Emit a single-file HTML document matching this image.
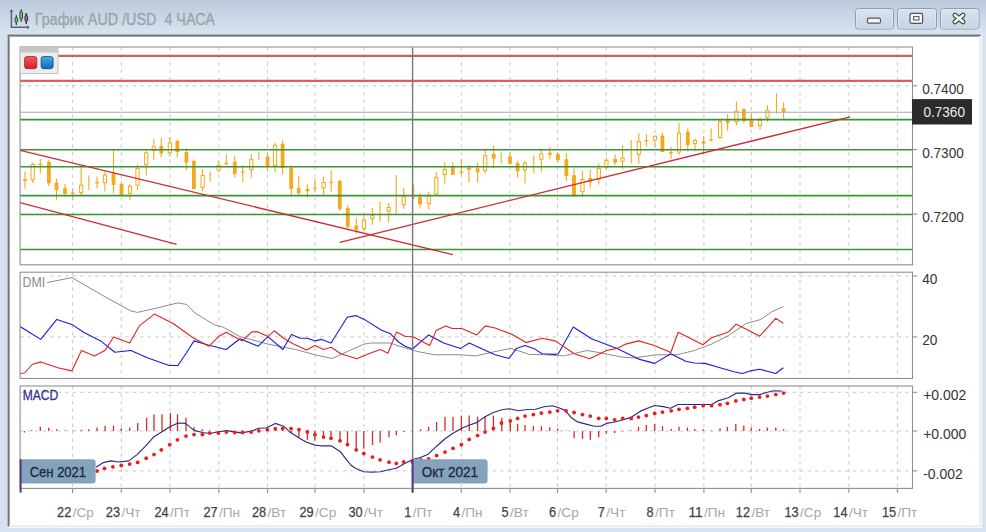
<!DOCTYPE html>
<html><head><meta charset="utf-8"><title>AUD/USD</title>
<style>html,body{margin:0;padding:0;width:986px;height:532px;overflow:hidden;background:#d5e1ef;font-family:"Liberation Sans", sans-serif}</style>
</head><body>
<svg width="986" height="532" viewBox="0 0 986 532" style="position:absolute;left:0;top:0">
<defs>
<linearGradient id="tb" x1="0" y1="0" x2="0" y2="1"><stop offset="0" stop-color="#bbc9db"/><stop offset="1" stop-color="#d8e3ef"/></linearGradient>
<linearGradient id="btn" x1="0" y1="0" x2="0" y2="1"><stop offset="0" stop-color="#d9e3ef"/><stop offset="1" stop-color="#c5d3e4"/></linearGradient>
<linearGradient id="rq" x1="0" y1="0" x2="0" y2="1"><stop offset="0" stop-color="#f45a5a"/><stop offset="1" stop-color="#d0202e"/></linearGradient>
<linearGradient id="bq" x1="0" y1="0" x2="0" y2="1"><stop offset="0" stop-color="#48aeea"/><stop offset="1" stop-color="#1466b4"/></linearGradient>
<clipPath id="c1"><rect x="20" y="48" width="892" height="216"/></clipPath>
<clipPath id="c2"><rect x="20" y="273" width="892" height="105"/></clipPath>
<clipPath id="c3"><rect x="20" y="387" width="892" height="101"/></clipPath>
</defs>
<rect x="0" y="0" width="986" height="532" fill="#d6e2f0"/>
<rect x="0" y="0" width="986" height="34" fill="url(#tb)"/>
<rect x="0" y="33" width="986" height="1" fill="#dce5f0"/>
<rect x="10" y="37" width="969" height="488" fill="#ffffff"/>
<rect x="7" y="34" width="974" height="1" fill="#a6b0bb"/>
<rect x="7" y="35" width="974" height="1" fill="#6f757a"/>
<rect x="8" y="36" width="972" height="1" fill="#a2a6a8"/>
<rect x="7" y="34" width="1" height="493" fill="#b2bcc8"/>
<rect x="8" y="35" width="1" height="492" fill="#717982"/>
<rect x="9" y="36" width="1" height="490" fill="#9ca1a6"/>
<rect x="979" y="36" width="2" height="491" fill="#eceeed"/>
<rect x="9" y="525" width="972" height="2" fill="#ececec"/>
<rect x="981" y="34" width="1" height="494" fill="#f2f7fc"/>
<rect x="7" y="527" width="975" height="1" fill="#f3f6fa"/>
<g>
<path d="M11.4 11 V27.3 H27.5" fill="none" stroke="#56667c" stroke-width="1.5"/>
<path d="M9.4 11.8 L11.4 9.2 L13.4 11.8 Z" fill="#56667c"/>
<path d="M27 25.2 L29.6 27.3 L27 29.4 Z" fill="#56667c"/>
<path d="M16.3 15.2 V24.9 M21.2 9.2 V21.7 M26.3 13.1 V23.7" stroke="#26402c" stroke-width="1.2"/>
<path d="M26.3 13.1 V23.7" stroke="#4a2a30" stroke-width="1.2"/>
<rect x="15" y="17.6" width="2.6" height="4.6" rx="1" fill="#78c07c" stroke="#24502c" stroke-width="1"/>
<rect x="19.9" y="11.6" width="2.6" height="7.4" rx="1" fill="#78c07c" stroke="#24502c" stroke-width="1"/>
<rect x="25" y="15.5" width="2.6" height="5.7" rx="1" fill="#a86a74" stroke="#4a2430" stroke-width="1"/>
</g>
<text x="34.8" y="25.1" font-family='"Liberation Sans", sans-serif' font-size="15.6" fill="#9ba2ab" stroke="#9ba2ab" stroke-width="0.3" textLength="180" lengthAdjust="spacingAndGlyphs">График AUD /USD&#160; 4 ЧАСА</text>
<rect x="855.5" y="8.5" width="38" height="20.5" rx="3" fill="url(#btn)" stroke="#8e9db3" stroke-width="1"/>
<rect x="856.5" y="9.5" width="36" height="18.5" rx="2" fill="none" stroke="#e8eef6" stroke-width="0.8" opacity="0.7"/>
<rect x="897.5" y="8.5" width="39" height="20.5" rx="3" fill="url(#btn)" stroke="#8e9db3" stroke-width="1"/>
<rect x="898.5" y="9.5" width="37" height="18.5" rx="2" fill="none" stroke="#e8eef6" stroke-width="0.8" opacity="0.7"/>
<rect x="940.5" y="8.5" width="38.5" height="20.5" rx="3" fill="url(#btn)" stroke="#8e9db3" stroke-width="1"/>
<rect x="941.5" y="9.5" width="36.5" height="18.5" rx="2" fill="none" stroke="#e8eef6" stroke-width="0.8" opacity="0.7"/>
<rect x="867.5" y="18.2" width="13" height="5" rx="1.5" fill="#f4f4f4" stroke="#555" stroke-width="1.2"/>
<rect x="910" y="13.4" width="12.6" height="10" rx="1.5" fill="#f4f4f4" stroke="#555" stroke-width="1.2"/>
<rect x="913.6" y="16.6" width="5.4" height="3.4" fill="#f4f4f4" stroke="#555" stroke-width="1"/>
<path d="M955 15.2 L963 21.8 M963 15.2 L955 21.8" stroke="#4a4a4a" stroke-width="5" stroke-linecap="round"/>
<path d="M955 15.2 L963 21.8 M963 15.2 L955 21.8" stroke="#f6f6f6" stroke-width="2.6" stroke-linecap="round"/>
<line x1="72.6" y1="47.0" x2="72.6" y2="264.8" stroke="#c9c9c9" stroke-width="1" stroke-dasharray="3.5 4"/>
<line x1="121.3" y1="47.0" x2="121.3" y2="264.8" stroke="#c9c9c9" stroke-width="1" stroke-dasharray="3.5 4"/>
<line x1="170" y1="47.0" x2="170" y2="264.8" stroke="#c9c9c9" stroke-width="1" stroke-dasharray="3.5 4"/>
<line x1="218.9" y1="47.0" x2="218.9" y2="264.8" stroke="#c9c9c9" stroke-width="1" stroke-dasharray="3.5 4"/>
<line x1="267.5" y1="47.0" x2="267.5" y2="264.8" stroke="#c9c9c9" stroke-width="1" stroke-dasharray="3.5 4"/>
<line x1="315" y1="47.0" x2="315" y2="264.8" stroke="#c9c9c9" stroke-width="1" stroke-dasharray="3.5 4"/>
<line x1="363.9" y1="47.0" x2="363.9" y2="264.8" stroke="#c9c9c9" stroke-width="1" stroke-dasharray="3.5 4"/>
<line x1="461.3" y1="47.0" x2="461.3" y2="264.8" stroke="#c9c9c9" stroke-width="1" stroke-dasharray="3.5 4"/>
<line x1="510" y1="47.0" x2="510" y2="264.8" stroke="#c9c9c9" stroke-width="1" stroke-dasharray="3.5 4"/>
<line x1="557.5" y1="47.0" x2="557.5" y2="264.8" stroke="#c9c9c9" stroke-width="1" stroke-dasharray="3.5 4"/>
<line x1="606.2" y1="47.0" x2="606.2" y2="264.8" stroke="#c9c9c9" stroke-width="1" stroke-dasharray="3.5 4"/>
<line x1="655" y1="47.0" x2="655" y2="264.8" stroke="#c9c9c9" stroke-width="1" stroke-dasharray="3.5 4"/>
<line x1="703.9" y1="47.0" x2="703.9" y2="264.8" stroke="#c9c9c9" stroke-width="1" stroke-dasharray="3.5 4"/>
<line x1="751.3" y1="47.0" x2="751.3" y2="264.8" stroke="#c9c9c9" stroke-width="1" stroke-dasharray="3.5 4"/>
<line x1="800" y1="47.0" x2="800" y2="264.8" stroke="#c9c9c9" stroke-width="1" stroke-dasharray="3.5 4"/>
<line x1="848.8" y1="47.0" x2="848.8" y2="264.8" stroke="#c9c9c9" stroke-width="1" stroke-dasharray="3.5 4"/>
<line x1="897.4" y1="47.0" x2="897.4" y2="264.8" stroke="#c9c9c9" stroke-width="1" stroke-dasharray="3.5 4"/>
<line x1="72.6" y1="272.2" x2="72.6" y2="378.5" stroke="#c9c9c9" stroke-width="1" stroke-dasharray="3.5 4"/>
<line x1="121.3" y1="272.2" x2="121.3" y2="378.5" stroke="#c9c9c9" stroke-width="1" stroke-dasharray="3.5 4"/>
<line x1="170" y1="272.2" x2="170" y2="378.5" stroke="#c9c9c9" stroke-width="1" stroke-dasharray="3.5 4"/>
<line x1="218.9" y1="272.2" x2="218.9" y2="378.5" stroke="#c9c9c9" stroke-width="1" stroke-dasharray="3.5 4"/>
<line x1="267.5" y1="272.2" x2="267.5" y2="378.5" stroke="#c9c9c9" stroke-width="1" stroke-dasharray="3.5 4"/>
<line x1="315" y1="272.2" x2="315" y2="378.5" stroke="#c9c9c9" stroke-width="1" stroke-dasharray="3.5 4"/>
<line x1="363.9" y1="272.2" x2="363.9" y2="378.5" stroke="#c9c9c9" stroke-width="1" stroke-dasharray="3.5 4"/>
<line x1="461.3" y1="272.2" x2="461.3" y2="378.5" stroke="#c9c9c9" stroke-width="1" stroke-dasharray="3.5 4"/>
<line x1="510" y1="272.2" x2="510" y2="378.5" stroke="#c9c9c9" stroke-width="1" stroke-dasharray="3.5 4"/>
<line x1="557.5" y1="272.2" x2="557.5" y2="378.5" stroke="#c9c9c9" stroke-width="1" stroke-dasharray="3.5 4"/>
<line x1="606.2" y1="272.2" x2="606.2" y2="378.5" stroke="#c9c9c9" stroke-width="1" stroke-dasharray="3.5 4"/>
<line x1="655" y1="272.2" x2="655" y2="378.5" stroke="#c9c9c9" stroke-width="1" stroke-dasharray="3.5 4"/>
<line x1="703.9" y1="272.2" x2="703.9" y2="378.5" stroke="#c9c9c9" stroke-width="1" stroke-dasharray="3.5 4"/>
<line x1="751.3" y1="272.2" x2="751.3" y2="378.5" stroke="#c9c9c9" stroke-width="1" stroke-dasharray="3.5 4"/>
<line x1="800" y1="272.2" x2="800" y2="378.5" stroke="#c9c9c9" stroke-width="1" stroke-dasharray="3.5 4"/>
<line x1="848.8" y1="272.2" x2="848.8" y2="378.5" stroke="#c9c9c9" stroke-width="1" stroke-dasharray="3.5 4"/>
<line x1="897.4" y1="272.2" x2="897.4" y2="378.5" stroke="#c9c9c9" stroke-width="1" stroke-dasharray="3.5 4"/>
<line x1="72.6" y1="386.0" x2="72.6" y2="488.4" stroke="#c9c9c9" stroke-width="1" stroke-dasharray="3.5 4"/>
<line x1="121.3" y1="386.0" x2="121.3" y2="488.4" stroke="#c9c9c9" stroke-width="1" stroke-dasharray="3.5 4"/>
<line x1="170" y1="386.0" x2="170" y2="488.4" stroke="#c9c9c9" stroke-width="1" stroke-dasharray="3.5 4"/>
<line x1="218.9" y1="386.0" x2="218.9" y2="488.4" stroke="#c9c9c9" stroke-width="1" stroke-dasharray="3.5 4"/>
<line x1="267.5" y1="386.0" x2="267.5" y2="488.4" stroke="#c9c9c9" stroke-width="1" stroke-dasharray="3.5 4"/>
<line x1="315" y1="386.0" x2="315" y2="488.4" stroke="#c9c9c9" stroke-width="1" stroke-dasharray="3.5 4"/>
<line x1="363.9" y1="386.0" x2="363.9" y2="488.4" stroke="#c9c9c9" stroke-width="1" stroke-dasharray="3.5 4"/>
<line x1="461.3" y1="386.0" x2="461.3" y2="488.4" stroke="#c9c9c9" stroke-width="1" stroke-dasharray="3.5 4"/>
<line x1="510" y1="386.0" x2="510" y2="488.4" stroke="#c9c9c9" stroke-width="1" stroke-dasharray="3.5 4"/>
<line x1="557.5" y1="386.0" x2="557.5" y2="488.4" stroke="#c9c9c9" stroke-width="1" stroke-dasharray="3.5 4"/>
<line x1="606.2" y1="386.0" x2="606.2" y2="488.4" stroke="#c9c9c9" stroke-width="1" stroke-dasharray="3.5 4"/>
<line x1="655" y1="386.0" x2="655" y2="488.4" stroke="#c9c9c9" stroke-width="1" stroke-dasharray="3.5 4"/>
<line x1="703.9" y1="386.0" x2="703.9" y2="488.4" stroke="#c9c9c9" stroke-width="1" stroke-dasharray="3.5 4"/>
<line x1="751.3" y1="386.0" x2="751.3" y2="488.4" stroke="#c9c9c9" stroke-width="1" stroke-dasharray="3.5 4"/>
<line x1="800" y1="386.0" x2="800" y2="488.4" stroke="#c9c9c9" stroke-width="1" stroke-dasharray="3.5 4"/>
<line x1="848.8" y1="386.0" x2="848.8" y2="488.4" stroke="#c9c9c9" stroke-width="1" stroke-dasharray="3.5 4"/>
<line x1="897.4" y1="386.0" x2="897.4" y2="488.4" stroke="#c9c9c9" stroke-width="1" stroke-dasharray="3.5 4"/>
<line x1="20.1" y1="85.8" x2="912.5" y2="85.8" stroke="#c9c9c9" stroke-width="1" stroke-dasharray="3.5 4"/>
<line x1="20.1" y1="149.6" x2="912.5" y2="149.6" stroke="#c9c9c9" stroke-width="1" stroke-dasharray="3.5 4"/>
<line x1="20.1" y1="214.1" x2="912.5" y2="214.1" stroke="#c9c9c9" stroke-width="1" stroke-dasharray="3.5 4"/>
<line x1="20.1" y1="276.1" x2="912.5" y2="276.1" stroke="#c9c9c9" stroke-width="1" stroke-dasharray="3.5 4"/>
<line x1="20.1" y1="336.9" x2="912.5" y2="336.9" stroke="#c9c9c9" stroke-width="1" stroke-dasharray="3.5 4"/>
<line x1="20.1" y1="392.3" x2="912.5" y2="392.3" stroke="#c9c9c9" stroke-width="1" stroke-dasharray="3.5 4"/>
<line x1="20.1" y1="431.0" x2="912.5" y2="431.0" stroke="#c9c9c9" stroke-width="1" stroke-dasharray="3.5 4"/>
<line x1="20.1" y1="470.9" x2="912.5" y2="470.9" stroke="#c9c9c9" stroke-width="1" stroke-dasharray="3.5 4"/>
<g clip-path="url(#c1)">
<line x1="25" y1="171.5" x2="25" y2="188.8" stroke="#f4a81a" stroke-width="1.1"/>
<rect x="23.1" y="179" width="3.8" height="2" fill="#f4a81a"/>
<line x1="32.7" y1="162.6" x2="32.7" y2="182.7" stroke="#f4a81a" stroke-width="1.1"/>
<rect x="31.1" y="164.4" width="3.2" height="15.3" fill="#fff" stroke="#f4a81a" stroke-width="1"/>
<line x1="40.3" y1="158.9" x2="40.3" y2="173.6" stroke="#f4a81a" stroke-width="1.1"/>
<line x1="38.3" y1="164.4" x2="42.3" y2="164.4" stroke="#f4a81a" stroke-width="1.2"/>
<line x1="48.9" y1="160.1" x2="48.9" y2="186.4" stroke="#f4a81a" stroke-width="1.1"/>
<rect x="47" y="162" width="3.8" height="21.3" fill="#f4a81a"/>
<line x1="56.5" y1="179" x2="56.5" y2="199.8" stroke="#f4a81a" stroke-width="1.1"/>
<rect x="54.6" y="182.7" width="3.8" height="7.3" fill="#f4a81a"/>
<line x1="65" y1="184" x2="65" y2="196.8" stroke="#f4a81a" stroke-width="1.1"/>
<rect x="63.1" y="188.2" width="3.8" height="5.5" fill="#f4a81a"/>
<line x1="72.7" y1="188.2" x2="72.7" y2="199.8" stroke="#f4a81a" stroke-width="1.1"/>
<line x1="70.7" y1="193" x2="74.7" y2="193" stroke="#f4a81a" stroke-width="1.2"/>
<line x1="81.2" y1="166.3" x2="81.2" y2="195.6" stroke="#f4a81a" stroke-width="1.1"/>
<rect x="79.6" y="185.2" width="3.2" height="7.3" fill="#fff" stroke="#f4a81a" stroke-width="1"/>
<line x1="88.8" y1="175.4" x2="88.8" y2="190" stroke="#f4a81a" stroke-width="1.1"/>
<line x1="97.1" y1="176.6" x2="97.1" y2="188.6" stroke="#f4a81a" stroke-width="1.1"/>
<line x1="95.1" y1="182.7" x2="99.1" y2="182.7" stroke="#f4a81a" stroke-width="1.2"/>
<line x1="104.9" y1="171.4" x2="104.9" y2="191.6" stroke="#f4a81a" stroke-width="1.1"/>
<rect x="103.3" y="175" width="3.2" height="7.6" fill="#fff" stroke="#f4a81a" stroke-width="1"/>
<line x1="113.5" y1="149.5" x2="113.5" y2="193.2" stroke="#f4a81a" stroke-width="1.1"/>
<rect x="111.6" y="172.9" width="3.8" height="12" fill="#f4a81a"/>
<line x1="121.5" y1="181.9" x2="121.5" y2="196.2" stroke="#f4a81a" stroke-width="1.1"/>
<rect x="119.6" y="184" width="3.8" height="11.4" fill="#f4a81a"/>
<line x1="130" y1="184" x2="130" y2="200" stroke="#f4a81a" stroke-width="1.1"/>
<rect x="128.4" y="186.4" width="3.2" height="6.8" fill="#fff" stroke="#f4a81a" stroke-width="1"/>
<line x1="137.5" y1="164.4" x2="137.5" y2="190.4" stroke="#f4a81a" stroke-width="1.1"/>
<rect x="135.9" y="168.6" width="3.2" height="16.6" fill="#fff" stroke="#f4a81a" stroke-width="1"/>
<line x1="146.2" y1="150.6" x2="146.2" y2="175.4" stroke="#f4a81a" stroke-width="1.1"/>
<rect x="144.6" y="152.8" width="3.2" height="12" fill="#fff" stroke="#f4a81a" stroke-width="1"/>
<line x1="153.8" y1="139.3" x2="153.8" y2="160.3" stroke="#f4a81a" stroke-width="1.1"/>
<rect x="152.2" y="146.8" width="3.2" height="3.8" fill="#fff" stroke="#f4a81a" stroke-width="1"/>
<line x1="161.3" y1="137.8" x2="161.3" y2="157.3" stroke="#f4a81a" stroke-width="1.1"/>
<rect x="159.4" y="146" width="3.8" height="7.6" fill="#f4a81a"/>
<line x1="169.8" y1="137" x2="169.8" y2="156.6" stroke="#f4a81a" stroke-width="1.1"/>
<rect x="168.2" y="143" width="3.2" height="9.8" fill="#fff" stroke="#f4a81a" stroke-width="1"/>
<line x1="177.4" y1="140" x2="177.4" y2="157.3" stroke="#f4a81a" stroke-width="1.1"/>
<rect x="175.5" y="140.8" width="3.8" height="11.2" fill="#f4a81a"/>
<line x1="186.4" y1="148.3" x2="186.4" y2="170.1" stroke="#f4a81a" stroke-width="1.1"/>
<rect x="184.5" y="152" width="3.8" height="10.6" fill="#f4a81a"/>
<line x1="193.9" y1="159.6" x2="193.9" y2="189" stroke="#f4a81a" stroke-width="1.1"/>
<rect x="192" y="161" width="3.8" height="28" fill="#f4a81a"/>
<line x1="202.6" y1="169.4" x2="202.6" y2="191.2" stroke="#f4a81a" stroke-width="1.1"/>
<rect x="201" y="175.4" width="3.2" height="12" fill="#fff" stroke="#f4a81a" stroke-width="1"/>
<line x1="210.2" y1="171.6" x2="210.2" y2="182.1" stroke="#f4a81a" stroke-width="1.1"/>
<line x1="218.7" y1="161" x2="218.7" y2="172.4" stroke="#f4a81a" stroke-width="1.1"/>
<rect x="217.1" y="165.6" width="3.2" height="4.5" fill="#fff" stroke="#f4a81a" stroke-width="1"/>
<line x1="226.3" y1="154.3" x2="226.3" y2="165.6" stroke="#f4a81a" stroke-width="1.1"/>
<line x1="224.3" y1="163.3" x2="228.3" y2="163.3" stroke="#f4a81a" stroke-width="1.2"/>
<line x1="234.8" y1="155.8" x2="234.8" y2="177.6" stroke="#f4a81a" stroke-width="1.1"/>
<rect x="232.9" y="161.8" width="3.8" height="12.1" fill="#f4a81a"/>
<line x1="242.7" y1="165.6" x2="242.7" y2="182.1" stroke="#f4a81a" stroke-width="1.1"/>
<line x1="240.7" y1="172" x2="244.7" y2="172" stroke="#f4a81a" stroke-width="1.2"/>
<line x1="251.3" y1="154.3" x2="251.3" y2="177.6" stroke="#f4a81a" stroke-width="1.1"/>
<rect x="249.7" y="159.6" width="3.2" height="9.8" fill="#fff" stroke="#f4a81a" stroke-width="1"/>
<line x1="258.8" y1="152" x2="258.8" y2="160.3" stroke="#f4a81a" stroke-width="1.1"/>
<line x1="267.6" y1="153.6" x2="267.6" y2="170.9" stroke="#f4a81a" stroke-width="1.1"/>
<rect x="265.7" y="156.6" width="3.8" height="9.8" fill="#f4a81a"/>
<line x1="275" y1="143" x2="275" y2="172.4" stroke="#f4a81a" stroke-width="1.1"/>
<rect x="273.4" y="145.3" width="3.2" height="20.3" fill="#fff" stroke="#f4a81a" stroke-width="1"/>
<line x1="282.6" y1="140" x2="282.6" y2="174.6" stroke="#f4a81a" stroke-width="1.1"/>
<rect x="280.7" y="143.8" width="3.8" height="24.1" fill="#f4a81a"/>
<line x1="291.2" y1="165.6" x2="291.2" y2="195.7" stroke="#f4a81a" stroke-width="1.1"/>
<rect x="289.3" y="167.9" width="3.8" height="21" fill="#f4a81a"/>
<line x1="298.7" y1="176.1" x2="298.7" y2="194.9" stroke="#f4a81a" stroke-width="1.1"/>
<rect x="296.8" y="188.2" width="3.8" height="5.2" fill="#f4a81a"/>
<line x1="307.4" y1="184.4" x2="307.4" y2="197.2" stroke="#f4a81a" stroke-width="1.1"/>
<rect x="305.5" y="188.9" width="3.8" height="2.3" fill="#f4a81a"/>
<line x1="314.9" y1="179.1" x2="314.9" y2="191.2" stroke="#f4a81a" stroke-width="1.1"/>
<line x1="312.9" y1="188.2" x2="316.9" y2="188.2" stroke="#f4a81a" stroke-width="1.2"/>
<line x1="323.6" y1="176.5" x2="323.6" y2="196.1" stroke="#f4a81a" stroke-width="1.1"/>
<rect x="322" y="182.6" width="3.2" height="5.2" fill="#fff" stroke="#f4a81a" stroke-width="1"/>
<line x1="331.2" y1="170.5" x2="331.2" y2="191.6" stroke="#f4a81a" stroke-width="1.1"/>
<line x1="329.2" y1="182.3" x2="333.2" y2="182.3" stroke="#f4a81a" stroke-width="1.2"/>
<line x1="339.8" y1="179.5" x2="339.8" y2="211.1" stroke="#f4a81a" stroke-width="1.1"/>
<rect x="337.9" y="181" width="3.8" height="27.9" fill="#f4a81a"/>
<line x1="347.8" y1="205.1" x2="347.8" y2="228.4" stroke="#f4a81a" stroke-width="1.1"/>
<rect x="345.9" y="208.1" width="3.8" height="18.8" fill="#f4a81a"/>
<line x1="356.3" y1="217.9" x2="356.3" y2="233.7" stroke="#f4a81a" stroke-width="1.1"/>
<rect x="354.4" y="225.4" width="3.8" height="4.5" fill="#f4a81a"/>
<line x1="363.9" y1="214.9" x2="363.9" y2="231.4" stroke="#f4a81a" stroke-width="1.1"/>
<rect x="362.3" y="220.2" width="3.2" height="8.2" fill="#fff" stroke="#f4a81a" stroke-width="1"/>
<line x1="372.4" y1="208.1" x2="372.4" y2="224.7" stroke="#f4a81a" stroke-width="1.1"/>
<rect x="370.8" y="215.6" width="3.2" height="3" fill="#fff" stroke="#f4a81a" stroke-width="1"/>
<line x1="380" y1="201.4" x2="380" y2="221.7" stroke="#f4a81a" stroke-width="1.1"/>
<line x1="388.7" y1="202.9" x2="388.7" y2="222.4" stroke="#f4a81a" stroke-width="1.1"/>
<rect x="387.1" y="207.4" width="3.2" height="3.7" fill="#fff" stroke="#f4a81a" stroke-width="1"/>
<line x1="396.2" y1="175" x2="396.2" y2="213.4" stroke="#f4a81a" stroke-width="1.1"/>
<line x1="403.7" y1="187.8" x2="403.7" y2="208.9" stroke="#f4a81a" stroke-width="1.1"/>
<rect x="402.1" y="196.8" width="3.2" height="7.6" fill="#fff" stroke="#f4a81a" stroke-width="1"/>
<line x1="413.6" y1="184.8" x2="413.6" y2="199" stroke="#f4a81a" stroke-width="1.1"/>
<line x1="420" y1="193.2" x2="420" y2="208.2" stroke="#f4a81a" stroke-width="1.1"/>
<rect x="418.1" y="196.9" width="3.8" height="7.5" fill="#f4a81a"/>
<line x1="428.8" y1="191.7" x2="428.8" y2="209.7" stroke="#f4a81a" stroke-width="1.1"/>
<rect x="427.2" y="196.2" width="3.2" height="7.5" fill="#fff" stroke="#f4a81a" stroke-width="1"/>
<line x1="436.3" y1="172.1" x2="436.3" y2="195.4" stroke="#f4a81a" stroke-width="1.1"/>
<rect x="434.7" y="177.4" width="3.2" height="16.5" fill="#fff" stroke="#f4a81a" stroke-width="1"/>
<line x1="444.8" y1="162.3" x2="444.8" y2="183.4" stroke="#f4a81a" stroke-width="1.1"/>
<rect x="443.2" y="169.4" width="3.2" height="5" fill="#fff" stroke="#f4a81a" stroke-width="1"/>
<line x1="452.8" y1="162.3" x2="452.8" y2="175.1" stroke="#f4a81a" stroke-width="1.1"/>
<rect x="450.9" y="166.8" width="3.8" height="8" fill="#f4a81a"/>
<line x1="461.4" y1="159.3" x2="461.4" y2="175.1" stroke="#f4a81a" stroke-width="1.1"/>
<line x1="459.4" y1="172.1" x2="463.4" y2="172.1" stroke="#f4a81a" stroke-width="1.2"/>
<line x1="468.9" y1="165.3" x2="468.9" y2="182.6" stroke="#f4a81a" stroke-width="1.1"/>
<rect x="467" y="167.6" width="3.8" height="2.2" fill="#f4a81a"/>
<line x1="477.6" y1="163.1" x2="477.6" y2="182.6" stroke="#f4a81a" stroke-width="1.1"/>
<rect x="475.7" y="168.3" width="3.8" height="3.8" fill="#f4a81a"/>
<line x1="485.2" y1="149.5" x2="485.2" y2="173.6" stroke="#f4a81a" stroke-width="1.1"/>
<rect x="483.6" y="155.6" width="3.2" height="15" fill="#fff" stroke="#f4a81a" stroke-width="1"/>
<line x1="493.7" y1="145.8" x2="493.7" y2="168.3" stroke="#f4a81a" stroke-width="1.1"/>
<rect x="491.8" y="154" width="3.8" height="4.6" fill="#f4a81a"/>
<line x1="501.2" y1="152.6" x2="501.2" y2="163.8" stroke="#f4a81a" stroke-width="1.1"/>
<line x1="510" y1="152.6" x2="510" y2="164.6" stroke="#f4a81a" stroke-width="1.1"/>
<rect x="508.1" y="156.3" width="3.8" height="7.5" fill="#f4a81a"/>
<line x1="517.6" y1="160.8" x2="517.6" y2="177.4" stroke="#f4a81a" stroke-width="1.1"/>
<rect x="515.7" y="163.1" width="3.8" height="8.3" fill="#f4a81a"/>
<line x1="525" y1="160.8" x2="525" y2="183.4" stroke="#f4a81a" stroke-width="1.1"/>
<rect x="523.4" y="163.1" width="3.2" height="6.7" fill="#fff" stroke="#f4a81a" stroke-width="1"/>
<line x1="533.8" y1="155.6" x2="533.8" y2="172.9" stroke="#f4a81a" stroke-width="1.1"/>
<line x1="541.3" y1="148.8" x2="541.3" y2="171.4" stroke="#f4a81a" stroke-width="1.1"/>
<rect x="539.7" y="154" width="3.2" height="5.3" fill="#fff" stroke="#f4a81a" stroke-width="1"/>
<line x1="549.9" y1="146.5" x2="549.9" y2="159.3" stroke="#f4a81a" stroke-width="1.1"/>
<rect x="548" y="152.6" width="3.8" height="2.2" fill="#f4a81a"/>
<line x1="557.9" y1="152.6" x2="557.9" y2="162.3" stroke="#f4a81a" stroke-width="1.1"/>
<rect x="556" y="154" width="3.8" height="6" fill="#f4a81a"/>
<line x1="566.4" y1="153.3" x2="566.4" y2="181.1" stroke="#f4a81a" stroke-width="1.1"/>
<rect x="564.5" y="159.3" width="3.8" height="16.6" fill="#f4a81a"/>
<line x1="574" y1="168.3" x2="574" y2="196.9" stroke="#f4a81a" stroke-width="1.1"/>
<rect x="572.1" y="175.1" width="3.8" height="20.3" fill="#f4a81a"/>
<line x1="582.5" y1="170.6" x2="582.5" y2="196.9" stroke="#f4a81a" stroke-width="1.1"/>
<rect x="580.9" y="179.6" width="3.2" height="12.1" fill="#fff" stroke="#f4a81a" stroke-width="1"/>
<line x1="590.2" y1="169.4" x2="590.2" y2="188.6" stroke="#f4a81a" stroke-width="1.1"/>
<rect x="588.3" y="178.1" width="3.8" height="3.8" fill="#f4a81a"/>
<line x1="598.8" y1="163.4" x2="598.8" y2="184.4" stroke="#f4a81a" stroke-width="1.1"/>
<rect x="597.2" y="168.6" width="3.2" height="10.6" fill="#fff" stroke="#f4a81a" stroke-width="1"/>
<line x1="606.4" y1="157.4" x2="606.4" y2="169.4" stroke="#f4a81a" stroke-width="1.1"/>
<rect x="604.8" y="160.4" width="3.2" height="6.7" fill="#fff" stroke="#f4a81a" stroke-width="1"/>
<line x1="615.1" y1="154.4" x2="615.1" y2="164.9" stroke="#f4a81a" stroke-width="1.1"/>
<rect x="613.2" y="158.9" width="3.8" height="3.7" fill="#f4a81a"/>
<line x1="622.6" y1="145.3" x2="622.6" y2="169.4" stroke="#f4a81a" stroke-width="1.1"/>
<rect x="621" y="158.1" width="3.2" height="3" fill="#fff" stroke="#f4a81a" stroke-width="1"/>
<line x1="631.2" y1="140.1" x2="631.2" y2="163.4" stroke="#f4a81a" stroke-width="1.1"/>
<line x1="638.8" y1="133.3" x2="638.8" y2="164.1" stroke="#f4a81a" stroke-width="1.1"/>
<rect x="637.2" y="141.6" width="3.2" height="12.8" fill="#fff" stroke="#f4a81a" stroke-width="1"/>
<line x1="646.4" y1="134.1" x2="646.4" y2="146.1" stroke="#f4a81a" stroke-width="1.1"/>
<line x1="644.4" y1="140.8" x2="648.4" y2="140.8" stroke="#f4a81a" stroke-width="1.2"/>
<line x1="654.9" y1="135.6" x2="654.9" y2="146.8" stroke="#f4a81a" stroke-width="1.1"/>
<rect x="653.3" y="136.3" width="3.2" height="3.8" fill="#fff" stroke="#f4a81a" stroke-width="1"/>
<line x1="662.4" y1="132.6" x2="662.4" y2="152.1" stroke="#f4a81a" stroke-width="1.1"/>
<rect x="660.5" y="135.6" width="3.8" height="16.5" fill="#f4a81a"/>
<line x1="671" y1="146.8" x2="671" y2="158.9" stroke="#f4a81a" stroke-width="1.1"/>
<rect x="669.1" y="152.1" width="3.8" height="1.5" fill="#f4a81a"/>
<line x1="679" y1="122.8" x2="679" y2="154.9" stroke="#f4a81a" stroke-width="1.1"/>
<rect x="677.4" y="133.2" width="3.2" height="18.8" fill="#fff" stroke="#f4a81a" stroke-width="1"/>
<line x1="687.8" y1="128.6" x2="687.8" y2="151.2" stroke="#f4a81a" stroke-width="1.1"/>
<rect x="685.9" y="131.6" width="3.8" height="13.6" fill="#f4a81a"/>
<line x1="695" y1="138.4" x2="695" y2="151.2" stroke="#f4a81a" stroke-width="1.1"/>
<rect x="693.4" y="140.6" width="3.2" height="3" fill="#fff" stroke="#f4a81a" stroke-width="1"/>
<line x1="703.6" y1="136.1" x2="703.6" y2="154.2" stroke="#f4a81a" stroke-width="1.1"/>
<rect x="701.7" y="141.4" width="3.8" height="2.2" fill="#f4a81a"/>
<line x1="711.1" y1="128.6" x2="711.1" y2="141.4" stroke="#f4a81a" stroke-width="1.1"/>
<line x1="709.1" y1="139.9" x2="713.1" y2="139.9" stroke="#f4a81a" stroke-width="1.2"/>
<line x1="720.1" y1="118.8" x2="720.1" y2="139.1" stroke="#f4a81a" stroke-width="1.1"/>
<rect x="718.5" y="121.8" width="3.2" height="15.8" fill="#fff" stroke="#f4a81a" stroke-width="1"/>
<line x1="727.6" y1="114.3" x2="727.6" y2="130.9" stroke="#f4a81a" stroke-width="1.1"/>
<rect x="725.7" y="120.3" width="3.8" height="3" fill="#f4a81a"/>
<line x1="736.4" y1="101.5" x2="736.4" y2="125.6" stroke="#f4a81a" stroke-width="1.1"/>
<rect x="734.8" y="111.3" width="3.2" height="10.5" fill="#fff" stroke="#f4a81a" stroke-width="1"/>
<line x1="743.9" y1="108.3" x2="743.9" y2="123.3" stroke="#f4a81a" stroke-width="1.1"/>
<rect x="742" y="109.1" width="3.8" height="12" fill="#f4a81a"/>
<line x1="751.4" y1="113.6" x2="751.4" y2="127.1" stroke="#f4a81a" stroke-width="1.1"/>
<rect x="749.5" y="120.3" width="3.8" height="6.8" fill="#f4a81a"/>
<line x1="760" y1="117.3" x2="760" y2="130.1" stroke="#f4a81a" stroke-width="1.1"/>
<rect x="758.4" y="120.3" width="3.2" height="5.3" fill="#fff" stroke="#f4a81a" stroke-width="1"/>
<line x1="767.5" y1="105.3" x2="767.5" y2="121.8" stroke="#f4a81a" stroke-width="1.1"/>
<rect x="765.9" y="110.6" width="3.2" height="6.7" fill="#fff" stroke="#f4a81a" stroke-width="1"/>
<line x1="776.5" y1="93.3" x2="776.5" y2="113.6" stroke="#f4a81a" stroke-width="1.1"/>
<line x1="783.6" y1="102.3" x2="783.6" y2="118.8" stroke="#f4a81a" stroke-width="1.1"/>
<rect x="781.7" y="108.3" width="3.8" height="3.8" fill="#f4a81a"/>
<line x1="20.1" y1="55.9" x2="912.5" y2="55.9" stroke="#c2646a" stroke-width="2.1"/>
<line x1="20.1" y1="80.9" x2="912.5" y2="80.9" stroke="#e05c5c" stroke-width="2.1"/>
<line x1="20.1" y1="112.3" x2="912.5" y2="112.3" stroke="#a8a8a8" stroke-width="1.1"/>
<line x1="20.1" y1="119.6" x2="912.5" y2="119.6" stroke="#3a9438" stroke-width="1.55"/>
<line x1="20.1" y1="149.7" x2="912.5" y2="149.7" stroke="#3a9438" stroke-width="1.55"/>
<line x1="20.1" y1="166.8" x2="912.5" y2="166.8" stroke="#3a9438" stroke-width="1.55"/>
<line x1="20.1" y1="195.6" x2="912.5" y2="195.6" stroke="#3a9438" stroke-width="1.55"/>
<line x1="20.1" y1="214.4" x2="912.5" y2="214.4" stroke="#3a9438" stroke-width="1.55"/>
<line x1="20.1" y1="249.5" x2="912.5" y2="249.5" stroke="#3a9438" stroke-width="1.55"/>
<line x1="20" y1="150.4" x2="452.8" y2="254.6" stroke="#cc2a30" stroke-width="1.25"/>
<line x1="20" y1="202.7" x2="176.6" y2="244.3" stroke="#cc2a30" stroke-width="1.25"/>
<line x1="339.7" y1="242.3" x2="850.2" y2="116.8" stroke="#cc2a30" stroke-width="1.25"/>
</g>
<g clip-path="url(#c2)">
<polyline points="47.2,282.6 71.8,277.6 107.2,298 130.8,310.9 137.2,312.4 154.3,308.7 177.9,302.9 186.5,304.4 195,313 214.4,324.8 222.9,327 240,336.6 267.9,344.1 295.7,349.5 315,354.8 332.2,358.5 347.2,351.6 364.3,344.1 370.8,343 390,343 403,347.3 417.9,351.6 435,354.8 460.7,354.8 475.7,355.9 495,351.6 511.1,348.4 529.3,354.4 546.5,354.8 563.6,355.9 587.2,350.5 600,352.7 621.4,357 634.3,358 655.7,354.8 677.2,354.8 694.3,350.5 711.5,344.1 728.6,335.5 745.8,323.7 760.8,319.4 771.5,311.9 783.3,306.6" fill="none" stroke="#8c8c8c" stroke-width="1.0" stroke-linejoin="round"/>
<polyline points="19.7,326.3 40.7,339.4 56.8,319.4 71.8,324.4 83.6,332.3 100.7,340.9 114.7,352.2 130.8,350.5 147.9,358 169.3,365.5 177.9,365.5 186.5,352.7 194,340.9 209,345.2 226.1,349.5 240,338.7 258.2,346.2 267.9,336.6 282.9,349.5 291.5,334.5 300,338.3 307.5,338.3 315,340.9 321.5,339.4 331.1,343 347.2,317.3 355.8,315.6 364.3,319.4 381.5,330.2 390,333.4 398.6,342 405,346.2 412.5,349 428.6,334.9 443.6,343 460.7,348.4 469.3,343 477.9,346.9 495,354.8 509,358.5 516.5,348.4 525,345.6 533.6,348.4 542.2,353.7 555.1,354.4 558.3,353.7 573.3,327 591.5,338.7 600,342 617.1,348.4 638.6,359.1 654.7,363.4 670.7,353.7 685.7,361.2 694.3,363 705,363.4 720,367.7 735,372 742.5,373.5 750,370.9 759.7,369.2 775.8,373.5 783.3,367.7" fill="none" stroke="#1c1cdc" stroke-width="1.1" stroke-linejoin="round"/>
<polyline points="19.7,373.5 24.6,373 32.1,364.5 40.7,361.9 57.9,367.7 71.8,370.9 81.5,350.5 94.3,355.9 105,350.5 113.6,337 129.7,343 139.3,325.9 154.3,314.1 173.6,323.7 192.9,337.7 209,346.2 218.6,336.6 226.1,332.3 242.2,340.9 251.8,331.9 258.2,331.9 267.9,336.6 274.3,330.8 282.9,337.7 291.5,343 306.5,349.9 315,345.6 323.6,349.5 331.1,347.3 340.8,353.7 356.8,358.7 368.6,353.7 380.4,349.5 387.9,353.3 396.5,331.9 405,336.2 413.6,337 429.7,345.6 436.1,330.6 445.7,325.9 452.2,328.5 461.8,328.5 476.8,334.9 485.4,325.9 495,328 512.2,334.5 526.1,342.6 542.2,338.3 555.1,340.9 574.3,353.7 589.4,358.7 600,353.7 606.4,350.5 617.1,348.4 625.7,344.1 638.6,340.9 653.6,345.2 668.6,351.6 670.7,352.7 678.2,332.3 702.9,344.7 711.5,337.7 728.6,331.9 736.1,324.2 745.8,329.1 759.7,336.2 775.8,318.4 783.3,323.3" fill="none" stroke="#e02424" stroke-width="1.1" stroke-linejoin="round"/>
</g>
<rect x="21" y="274" width="26" height="14" fill="#fff"/>
<text x="22.6" y="286.6" font-family='"Liberation Sans", sans-serif' font-size="14" fill="#8a8a8a" textLength="22.6" lengthAdjust="spacingAndGlyphs">DMI</text>
<g clip-path="url(#c3)">
<line x1="24.5" y1="431.0" x2="24.5" y2="432.5" stroke="#d42a2a" stroke-width="1.3"/>
<line x1="31.8" y1="431.0" x2="31.8" y2="430" stroke="#d42a2a" stroke-width="1.3"/>
<line x1="40.3" y1="431.0" x2="40.3" y2="426.8" stroke="#d42a2a" stroke-width="1.3"/>
<line x1="48.7" y1="431.0" x2="48.7" y2="427.8" stroke="#d42a2a" stroke-width="1.3"/>
<line x1="56.7" y1="431.0" x2="56.7" y2="429.3" stroke="#d42a2a" stroke-width="1.3"/>
<line x1="64.8" y1="431.0" x2="64.8" y2="430.5" stroke="#d42a2a" stroke-width="1.3"/>
<line x1="72.9" y1="431.0" x2="72.9" y2="430.5" stroke="#d42a2a" stroke-width="1.3"/>
<line x1="81.3" y1="431.0" x2="81.3" y2="429.8" stroke="#d42a2a" stroke-width="1.3"/>
<line x1="88.7" y1="431.0" x2="88.7" y2="429.3" stroke="#d42a2a" stroke-width="1.3"/>
<line x1="97.1" y1="431.0" x2="97.1" y2="427.6" stroke="#d42a2a" stroke-width="1.3"/>
<line x1="105.1" y1="431.0" x2="105.1" y2="425.7" stroke="#d42a2a" stroke-width="1.3"/>
<line x1="113.5" y1="431.0" x2="113.5" y2="425.7" stroke="#d42a2a" stroke-width="1.3"/>
<line x1="121.3" y1="431.0" x2="121.3" y2="428.3" stroke="#d42a2a" stroke-width="1.3"/>
<line x1="129.7" y1="431.0" x2="129.7" y2="427.6" stroke="#d42a2a" stroke-width="1.3"/>
<line x1="137.7" y1="431.0" x2="137.7" y2="423" stroke="#d42a2a" stroke-width="1.3"/>
<line x1="146.6" y1="431.0" x2="146.6" y2="417.7" stroke="#d42a2a" stroke-width="1.3"/>
<line x1="154" y1="431.0" x2="154" y2="414.6" stroke="#d42a2a" stroke-width="1.3"/>
<line x1="162" y1="431.0" x2="162" y2="414.2" stroke="#d42a2a" stroke-width="1.3"/>
<line x1="170.4" y1="431.0" x2="170.4" y2="413.1" stroke="#d42a2a" stroke-width="1.3"/>
<line x1="177.5" y1="431.0" x2="177.5" y2="414.2" stroke="#d42a2a" stroke-width="1.3"/>
<line x1="186" y1="431.0" x2="186" y2="417.7" stroke="#d42a2a" stroke-width="1.3"/>
<line x1="194" y1="431.0" x2="194" y2="427.2" stroke="#d42a2a" stroke-width="1.3"/>
<line x1="202.4" y1="431.0" x2="202.4" y2="429.3" stroke="#d42a2a" stroke-width="1.3"/>
<line x1="209.7" y1="431.0" x2="209.7" y2="430.4" stroke="#d42a2a" stroke-width="1.3"/>
<line x1="218.4" y1="431.0" x2="218.4" y2="432" stroke="#d42a2a" stroke-width="1.3"/>
<line x1="226.4" y1="431.0" x2="226.4" y2="430" stroke="#d42a2a" stroke-width="1.3"/>
<line x1="234.8" y1="431.0" x2="234.8" y2="432" stroke="#d42a2a" stroke-width="1.3"/>
<line x1="242.6" y1="431.0" x2="242.6" y2="430.5" stroke="#d42a2a" stroke-width="1.3"/>
<line x1="251.1" y1="431.0" x2="251.1" y2="430.5" stroke="#d42a2a" stroke-width="1.3"/>
<line x1="258.8" y1="431.0" x2="258.8" y2="430" stroke="#d42a2a" stroke-width="1.3"/>
<line x1="267.3" y1="431.0" x2="267.3" y2="429.5" stroke="#d42a2a" stroke-width="1.3"/>
<line x1="275.3" y1="431.0" x2="275.3" y2="428.5" stroke="#d42a2a" stroke-width="1.3"/>
<line x1="282.6" y1="431.0" x2="282.6" y2="428.8" stroke="#d42a2a" stroke-width="1.3"/>
<line x1="291.1" y1="431.0" x2="291.1" y2="433.3" stroke="#d42a2a" stroke-width="1.3"/>
<line x1="298.9" y1="431.0" x2="298.9" y2="437.6" stroke="#d42a2a" stroke-width="1.3"/>
<line x1="307.4" y1="431.0" x2="307.4" y2="439.9" stroke="#d42a2a" stroke-width="1.3"/>
<line x1="314.9" y1="431.0" x2="314.9" y2="440.4" stroke="#d42a2a" stroke-width="1.3"/>
<line x1="323.5" y1="431.0" x2="323.5" y2="437" stroke="#d42a2a" stroke-width="1.3"/>
<line x1="331" y1="431.0" x2="331" y2="438.5" stroke="#d42a2a" stroke-width="1.3"/>
<line x1="340" y1="431.0" x2="340" y2="440.8" stroke="#d42a2a" stroke-width="1.3"/>
<line x1="347.5" y1="431.0" x2="347.5" y2="444.6" stroke="#d42a2a" stroke-width="1.3"/>
<line x1="356.2" y1="431.0" x2="356.2" y2="449.8" stroke="#d42a2a" stroke-width="1.3"/>
<line x1="363.8" y1="431.0" x2="363.8" y2="448.4" stroke="#d42a2a" stroke-width="1.3"/>
<line x1="372.5" y1="431.0" x2="372.5" y2="445" stroke="#d42a2a" stroke-width="1.3"/>
<line x1="380.1" y1="431.0" x2="380.1" y2="442.4" stroke="#d42a2a" stroke-width="1.3"/>
<line x1="389" y1="431.0" x2="389" y2="437.3" stroke="#d42a2a" stroke-width="1.3"/>
<line x1="396.3" y1="431.0" x2="396.3" y2="435.2" stroke="#d42a2a" stroke-width="1.3"/>
<line x1="403.7" y1="431.0" x2="403.7" y2="432" stroke="#d42a2a" stroke-width="1.3"/>
<line x1="412.4" y1="431.0" x2="412.4" y2="431" stroke="#d42a2a" stroke-width="1.3"/>
<line x1="420.7" y1="431.0" x2="420.7" y2="429.3" stroke="#d42a2a" stroke-width="1.3"/>
<line x1="428.6" y1="431.0" x2="428.6" y2="426.8" stroke="#d42a2a" stroke-width="1.3"/>
<line x1="436.6" y1="431.0" x2="436.6" y2="422" stroke="#d42a2a" stroke-width="1.3"/>
<line x1="445" y1="431.0" x2="445" y2="416.7" stroke="#d42a2a" stroke-width="1.3"/>
<line x1="453" y1="431.0" x2="453" y2="416.7" stroke="#d42a2a" stroke-width="1.3"/>
<line x1="461.4" y1="431.0" x2="461.4" y2="415.6" stroke="#d42a2a" stroke-width="1.3"/>
<line x1="469.2" y1="431.0" x2="469.2" y2="415.6" stroke="#d42a2a" stroke-width="1.3"/>
<line x1="477.6" y1="431.0" x2="477.6" y2="416.7" stroke="#d42a2a" stroke-width="1.3"/>
<line x1="485" y1="431.0" x2="485" y2="416.7" stroke="#d42a2a" stroke-width="1.3"/>
<line x1="493.4" y1="431.0" x2="493.4" y2="415.6" stroke="#d42a2a" stroke-width="1.3"/>
<line x1="501.8" y1="431.0" x2="501.8" y2="417.7" stroke="#d42a2a" stroke-width="1.3"/>
<line x1="510.3" y1="431.0" x2="510.3" y2="419.8" stroke="#d42a2a" stroke-width="1.3"/>
<line x1="517.6" y1="431.0" x2="517.6" y2="424" stroke="#d42a2a" stroke-width="1.3"/>
<line x1="525" y1="431.0" x2="525" y2="425.1" stroke="#d42a2a" stroke-width="1.3"/>
<line x1="533.4" y1="431.0" x2="533.4" y2="426.2" stroke="#d42a2a" stroke-width="1.3"/>
<line x1="541.4" y1="431.0" x2="541.4" y2="426.2" stroke="#d42a2a" stroke-width="1.3"/>
<line x1="549.8" y1="431.0" x2="549.8" y2="427.2" stroke="#d42a2a" stroke-width="1.3"/>
<line x1="557.6" y1="431.0" x2="557.6" y2="428.3" stroke="#d42a2a" stroke-width="1.3"/>
<line x1="566.1" y1="431.0" x2="566.1" y2="430.4" stroke="#d42a2a" stroke-width="1.3"/>
<line x1="574.1" y1="431.0" x2="574.1" y2="438.2" stroke="#d42a2a" stroke-width="1.3"/>
<line x1="582.5" y1="431.0" x2="582.5" y2="438.8" stroke="#d42a2a" stroke-width="1.3"/>
<line x1="590.3" y1="431.0" x2="590.3" y2="439.8" stroke="#d42a2a" stroke-width="1.3"/>
<line x1="598.7" y1="431.0" x2="598.7" y2="437.3" stroke="#d42a2a" stroke-width="1.3"/>
<line x1="606.3" y1="431.0" x2="606.3" y2="433.5" stroke="#d42a2a" stroke-width="1.3"/>
<line x1="614.7" y1="431.0" x2="614.7" y2="433" stroke="#d42a2a" stroke-width="1.3"/>
<line x1="622.7" y1="431.0" x2="622.7" y2="431.5" stroke="#d42a2a" stroke-width="1.3"/>
<line x1="631.2" y1="431.0" x2="631.2" y2="430.4" stroke="#d42a2a" stroke-width="1.3"/>
<line x1="638.5" y1="431.0" x2="638.5" y2="426.8" stroke="#d42a2a" stroke-width="1.3"/>
<line x1="646.3" y1="431.0" x2="646.3" y2="425.1" stroke="#d42a2a" stroke-width="1.3"/>
<line x1="654.7" y1="431.0" x2="654.7" y2="424" stroke="#d42a2a" stroke-width="1.3"/>
<line x1="662.5" y1="431.0" x2="662.5" y2="426.2" stroke="#d42a2a" stroke-width="1.3"/>
<line x1="671.2" y1="431.0" x2="671.2" y2="428.9" stroke="#d42a2a" stroke-width="1.3"/>
<line x1="679" y1="431.0" x2="679" y2="426.8" stroke="#d42a2a" stroke-width="1.3"/>
<line x1="687.4" y1="431.0" x2="687.4" y2="427.6" stroke="#d42a2a" stroke-width="1.3"/>
<line x1="694.7" y1="431.0" x2="694.7" y2="428.9" stroke="#d42a2a" stroke-width="1.3"/>
<line x1="703.2" y1="431.0" x2="703.2" y2="429.3" stroke="#d42a2a" stroke-width="1.3"/>
<line x1="711.6" y1="431.0" x2="711.6" y2="430.4" stroke="#d42a2a" stroke-width="1.3"/>
<line x1="720" y1="431.0" x2="720" y2="428.3" stroke="#d42a2a" stroke-width="1.3"/>
<line x1="727.4" y1="431.0" x2="727.4" y2="426.8" stroke="#d42a2a" stroke-width="1.3"/>
<line x1="735.8" y1="431.0" x2="735.8" y2="424" stroke="#d42a2a" stroke-width="1.3"/>
<line x1="743.8" y1="431.0" x2="743.8" y2="425.5" stroke="#d42a2a" stroke-width="1.3"/>
<line x1="751.2" y1="431.0" x2="751.2" y2="427.6" stroke="#d42a2a" stroke-width="1.3"/>
<line x1="759.6" y1="431.0" x2="759.6" y2="428.9" stroke="#d42a2a" stroke-width="1.3"/>
<line x1="767.4" y1="431.0" x2="767.4" y2="427.6" stroke="#d42a2a" stroke-width="1.3"/>
<line x1="775.8" y1="431.0" x2="775.8" y2="427.6" stroke="#d42a2a" stroke-width="1.3"/>
<line x1="783.6" y1="431.0" x2="783.6" y2="429.3" stroke="#d42a2a" stroke-width="1.3"/>
<polyline points="96,467.2 103.4,462.6 110.8,460.9 118.2,462 128.7,460.9 137.1,454.6 145.5,446.2 154,436.7 162.4,431.4 170.8,426.2 178.2,423 185.5,423.4 194,430.4 202.4,432.5 210,433.5 218.4,431.8 226.8,430.6 235.3,432.1 241.6,432.9 252.1,431 258.4,428.3 266.8,427.8 275.3,423.4 283.7,426.2 289.2,431.4 299.1,438 306.6,442.3 315.1,445.1 320.7,445.8 331.1,445.8 333.9,447.4 340.5,451.7 345.2,458.2 350.8,465 355.3,468.3 363.7,471.8 372.1,472.1 380.5,471.8 388.9,469.7 396.3,468.3 403.7,464.1 413.4,459.2 419.7,457.7 428.2,454.2 436.6,446.2 445,438.8 453.4,433.1 461.8,428.3 470.3,424.7 476.6,422.6 485,416.7 493.4,412.5 501.8,409.7 509.2,408.7 518.7,410.8 527.1,409.5 535.5,409.3 544,406.8 552.4,405.7 558.7,407.8 565,410.4 571.3,417.7 577.6,421.9 586,424.1 594.5,426.2 600.8,426.2 606.3,423.4 614.7,422 623.2,419.8 631.6,417.1 640,411.4 647.4,408.3 654.7,405.5 663.2,406.6 670.5,408.3 677.9,404.5 711.6,404.5 717.9,400.9 728.4,397.7 736.8,393.1 745.3,393.1 751.6,394.6 760,394.6 766.3,392.5 773.7,390.8 782.1,391" fill="none" stroke="#2a2a86" stroke-width="1.15" stroke-linejoin="round"/>
<circle cx="97.1" cy="471" r="1.9" fill="#ee1c1c"/>
<circle cx="104.5" cy="468.3" r="1.9" fill="#ee1c1c"/>
<circle cx="112.9" cy="466.8" r="1.9" fill="#ee1c1c"/>
<circle cx="121.3" cy="465.5" r="1.9" fill="#ee1c1c"/>
<circle cx="129.7" cy="464.1" r="1.9" fill="#ee1c1c"/>
<circle cx="137.7" cy="462.4" r="1.9" fill="#ee1c1c"/>
<circle cx="146.2" cy="458.2" r="1.9" fill="#ee1c1c"/>
<circle cx="154" cy="454.6" r="1.9" fill="#ee1c1c"/>
<circle cx="161.3" cy="449.9" r="1.9" fill="#ee1c1c"/>
<circle cx="169.7" cy="444.7" r="1.9" fill="#ee1c1c"/>
<circle cx="177.5" cy="439.8" r="1.9" fill="#ee1c1c"/>
<circle cx="186" cy="436.1" r="1.9" fill="#ee1c1c"/>
<circle cx="194" cy="434.6" r="1.9" fill="#ee1c1c"/>
<circle cx="202.4" cy="434.6" r="1.9" fill="#ee1c1c"/>
<circle cx="209.7" cy="433.1" r="1.9" fill="#ee1c1c"/>
<circle cx="218.4" cy="433.1" r="1.9" fill="#ee1c1c"/>
<circle cx="226.4" cy="432.1" r="1.9" fill="#ee1c1c"/>
<circle cx="234.8" cy="432.5" r="1.9" fill="#ee1c1c"/>
<circle cx="242.6" cy="432.5" r="1.9" fill="#ee1c1c"/>
<circle cx="251.1" cy="432.1" r="1.9" fill="#ee1c1c"/>
<circle cx="258.8" cy="430.8" r="1.9" fill="#ee1c1c"/>
<circle cx="267.3" cy="429.7" r="1.9" fill="#ee1c1c"/>
<circle cx="275.3" cy="428.7" r="1.9" fill="#ee1c1c"/>
<circle cx="282.6" cy="428.5" r="1.9" fill="#ee1c1c"/>
<circle cx="291.1" cy="428.6" r="1.9" fill="#ee1c1c"/>
<circle cx="298.9" cy="429.6" r="1.9" fill="#ee1c1c"/>
<circle cx="307.4" cy="431.9" r="1.9" fill="#ee1c1c"/>
<circle cx="314.9" cy="434.7" r="1.9" fill="#ee1c1c"/>
<circle cx="323.5" cy="437.1" r="1.9" fill="#ee1c1c"/>
<circle cx="331" cy="438.3" r="1.9" fill="#ee1c1c"/>
<circle cx="340" cy="440.8" r="1.9" fill="#ee1c1c"/>
<circle cx="347.5" cy="444.6" r="1.9" fill="#ee1c1c"/>
<circle cx="356.2" cy="449.8" r="1.9" fill="#ee1c1c"/>
<circle cx="363.8" cy="453.5" r="1.9" fill="#ee1c1c"/>
<circle cx="372.5" cy="457.1" r="1.9" fill="#ee1c1c"/>
<circle cx="380.1" cy="459.8" r="1.9" fill="#ee1c1c"/>
<circle cx="389" cy="462.2" r="1.9" fill="#ee1c1c"/>
<circle cx="396.3" cy="463.4" r="1.9" fill="#ee1c1c"/>
<circle cx="403.7" cy="462" r="1.9" fill="#ee1c1c"/>
<circle cx="412.4" cy="462" r="1.9" fill="#ee1c1c"/>
<circle cx="420.8" cy="459.8" r="1.9" fill="#ee1c1c"/>
<circle cx="428.6" cy="458.8" r="1.9" fill="#ee1c1c"/>
<circle cx="436.6" cy="455.6" r="1.9" fill="#ee1c1c"/>
<circle cx="445" cy="452.1" r="1.9" fill="#ee1c1c"/>
<circle cx="453" cy="448.3" r="1.9" fill="#ee1c1c"/>
<circle cx="461.4" cy="444.7" r="1.9" fill="#ee1c1c"/>
<circle cx="469.2" cy="439.4" r="1.9" fill="#ee1c1c"/>
<circle cx="477.6" cy="435.6" r="1.9" fill="#ee1c1c"/>
<circle cx="485" cy="432.1" r="1.9" fill="#ee1c1c"/>
<circle cx="493.4" cy="428.3" r="1.9" fill="#ee1c1c"/>
<circle cx="501.4" cy="423" r="1.9" fill="#ee1c1c"/>
<circle cx="510.3" cy="420.9" r="1.9" fill="#ee1c1c"/>
<circle cx="517.6" cy="418.4" r="1.9" fill="#ee1c1c"/>
<circle cx="525" cy="416.1" r="1.9" fill="#ee1c1c"/>
<circle cx="533.4" cy="414.6" r="1.9" fill="#ee1c1c"/>
<circle cx="541.4" cy="413.1" r="1.9" fill="#ee1c1c"/>
<circle cx="549.8" cy="412.1" r="1.9" fill="#ee1c1c"/>
<circle cx="557.6" cy="410.8" r="1.9" fill="#ee1c1c"/>
<circle cx="566.1" cy="410.8" r="1.9" fill="#ee1c1c"/>
<circle cx="574.1" cy="412.5" r="1.9" fill="#ee1c1c"/>
<circle cx="582.5" cy="414.6" r="1.9" fill="#ee1c1c"/>
<circle cx="590.3" cy="416.1" r="1.9" fill="#ee1c1c"/>
<circle cx="598.7" cy="418.4" r="1.9" fill="#ee1c1c"/>
<circle cx="606.3" cy="418.4" r="1.9" fill="#ee1c1c"/>
<circle cx="614.7" cy="419.8" r="1.9" fill="#ee1c1c"/>
<circle cx="622.7" cy="418.4" r="1.9" fill="#ee1c1c"/>
<circle cx="631.2" cy="418.4" r="1.9" fill="#ee1c1c"/>
<circle cx="638.5" cy="417.1" r="1.9" fill="#ee1c1c"/>
<circle cx="646.3" cy="415.6" r="1.9" fill="#ee1c1c"/>
<circle cx="654.7" cy="413.5" r="1.9" fill="#ee1c1c"/>
<circle cx="662.5" cy="412.1" r="1.9" fill="#ee1c1c"/>
<circle cx="671.2" cy="410.8" r="1.9" fill="#ee1c1c"/>
<circle cx="679" cy="409.3" r="1.9" fill="#ee1c1c"/>
<circle cx="687.4" cy="408.3" r="1.9" fill="#ee1c1c"/>
<circle cx="694.7" cy="407.2" r="1.9" fill="#ee1c1c"/>
<circle cx="703.2" cy="405.7" r="1.9" fill="#ee1c1c"/>
<circle cx="711.6" cy="405.7" r="1.9" fill="#ee1c1c"/>
<circle cx="720" cy="404.7" r="1.9" fill="#ee1c1c"/>
<circle cx="727.4" cy="403.4" r="1.9" fill="#ee1c1c"/>
<circle cx="735.8" cy="400.9" r="1.9" fill="#ee1c1c"/>
<circle cx="743.8" cy="399.4" r="1.9" fill="#ee1c1c"/>
<circle cx="751.2" cy="398.2" r="1.9" fill="#ee1c1c"/>
<circle cx="759.6" cy="397.1" r="1.9" fill="#ee1c1c"/>
<circle cx="767.4" cy="396.1" r="1.9" fill="#ee1c1c"/>
<circle cx="775.8" cy="394.6" r="1.9" fill="#ee1c1c"/>
<circle cx="783.6" cy="393.1" r="1.9" fill="#ee1c1c"/>
</g>
<text x="22.7" y="400" font-family='"Liberation Sans", sans-serif' font-size="13.8" fill="#34348a" stroke="#34348a" stroke-width="0.3" textLength="35.4" lengthAdjust="spacingAndGlyphs">MACD</text>
<line x1="412.6" y1="47.5" x2="412.6" y2="488" stroke="#787878" stroke-width="1.4"/>
<rect x="20.1" y="47.0" width="892.4" height="217.8" fill="none" stroke="#909090" stroke-width="1.1"/>
<rect x="20.1" y="272.2" width="892.4" height="106.3" fill="none" stroke="#909090" stroke-width="1.1"/>
<rect x="20.1" y="386.0" width="892.4" height="102.4" fill="none" stroke="#909090" stroke-width="1.1"/>
<rect x="20" y="47" width="38" height="26.5" fill="#ececec" stroke="#c4c4c4" stroke-width="1"/>
<rect x="20" y="47" width="38" height="5.5" fill="#c6c6c6"/>
<rect x="24.6" y="56.5" width="12.2" height="12.2" rx="2.5" fill="url(#rq)" stroke="#a81828" stroke-width="0.8"/>
<rect x="41.1" y="56.5" width="12" height="12.2" rx="2.5" fill="url(#bq)" stroke="#0c4c8c" stroke-width="0.8"/>
<line x1="912.5" y1="85.8" x2="917.2" y2="85.8" stroke="#909090" stroke-width="1.1"/>
<text x="922.2" y="93.8" font-family='"Liberation Sans", sans-serif' font-size="14" fill="#343434" textLength="41.6" lengthAdjust="spacingAndGlyphs">0.7400</text>
<line x1="912.5" y1="149.6" x2="917.2" y2="149.6" stroke="#909090" stroke-width="1.1"/>
<text x="922.2" y="157.6" font-family='"Liberation Sans", sans-serif' font-size="14" fill="#343434" textLength="41.6" lengthAdjust="spacingAndGlyphs">0.7300</text>
<line x1="912.5" y1="214.1" x2="917.2" y2="214.1" stroke="#909090" stroke-width="1.1"/>
<text x="922.2" y="222.1" font-family='"Liberation Sans", sans-serif' font-size="14" fill="#343434" textLength="41.6" lengthAdjust="spacingAndGlyphs">0.7200</text>
<line x1="912.5" y1="276.1" x2="917.2" y2="276.1" stroke="#909090" stroke-width="1.1"/>
<text x="922.2" y="284.1" font-family='"Liberation Sans", sans-serif' font-size="14" fill="#343434" textLength="15.2" lengthAdjust="spacingAndGlyphs">40</text>
<line x1="912.5" y1="336.9" x2="917.2" y2="336.9" stroke="#909090" stroke-width="1.1"/>
<text x="922.2" y="344.9" font-family='"Liberation Sans", sans-serif' font-size="14" fill="#343434" textLength="15.2" lengthAdjust="spacingAndGlyphs">20</text>
<line x1="912.5" y1="392.3" x2="917.2" y2="392.3" stroke="#909090" stroke-width="1.1"/>
<text x="923.2" y="400.3" font-family='"Liberation Sans", sans-serif' font-size="14" fill="#343434" textLength="43" lengthAdjust="spacingAndGlyphs">+0.002</text>
<line x1="912.5" y1="431.0" x2="917.2" y2="431.0" stroke="#909090" stroke-width="1.1"/>
<text x="923.2" y="439" font-family='"Liberation Sans", sans-serif' font-size="14" fill="#343434" textLength="43" lengthAdjust="spacingAndGlyphs">+0.000</text>
<line x1="912.5" y1="470.9" x2="917.2" y2="470.9" stroke="#909090" stroke-width="1.1"/>
<text x="923.2" y="478.9" font-family='"Liberation Sans", sans-serif' font-size="14" fill="#343434" textLength="39.5" lengthAdjust="spacingAndGlyphs">-0.002</text>
<rect x="912" y="99.1" width="60" height="25.4" fill="#2b2b2b"/>
<text x="923.4" y="116.6" font-family='"Liberation Sans", sans-serif' font-size="14" fill="#ececec" textLength="41.6" lengthAdjust="spacingAndGlyphs">0.7360</text>
<line x1="72.6" y1="488.4" x2="72.6" y2="493" stroke="#909090" stroke-width="1.1"/>
<line x1="121.3" y1="488.4" x2="121.3" y2="493" stroke="#909090" stroke-width="1.1"/>
<line x1="170" y1="488.4" x2="170" y2="493" stroke="#909090" stroke-width="1.1"/>
<line x1="218.9" y1="488.4" x2="218.9" y2="493" stroke="#909090" stroke-width="1.1"/>
<line x1="267.5" y1="488.4" x2="267.5" y2="493" stroke="#909090" stroke-width="1.1"/>
<line x1="315" y1="488.4" x2="315" y2="493" stroke="#909090" stroke-width="1.1"/>
<line x1="363.9" y1="488.4" x2="363.9" y2="493" stroke="#909090" stroke-width="1.1"/>
<line x1="412.6" y1="488.4" x2="412.6" y2="493" stroke="#909090" stroke-width="1.1"/>
<line x1="461.3" y1="488.4" x2="461.3" y2="493" stroke="#909090" stroke-width="1.1"/>
<line x1="510" y1="488.4" x2="510" y2="493" stroke="#909090" stroke-width="1.1"/>
<line x1="557.5" y1="488.4" x2="557.5" y2="493" stroke="#909090" stroke-width="1.1"/>
<line x1="606.2" y1="488.4" x2="606.2" y2="493" stroke="#909090" stroke-width="1.1"/>
<line x1="655" y1="488.4" x2="655" y2="493" stroke="#909090" stroke-width="1.1"/>
<line x1="703.9" y1="488.4" x2="703.9" y2="493" stroke="#909090" stroke-width="1.1"/>
<line x1="751.3" y1="488.4" x2="751.3" y2="493" stroke="#909090" stroke-width="1.1"/>
<line x1="800" y1="488.4" x2="800" y2="493" stroke="#909090" stroke-width="1.1"/>
<line x1="848.8" y1="488.4" x2="848.8" y2="493" stroke="#909090" stroke-width="1.1"/>
<line x1="897.4" y1="488.4" x2="897.4" y2="493" stroke="#909090" stroke-width="1.1"/>
<text x="71.3" y="516.8" font-family='"Liberation Sans", sans-serif' font-size="14" fill="#444444" stroke="#444444" stroke-width="0.25" text-anchor="end" textLength="14.2" lengthAdjust="spacingAndGlyphs">22</text>
<text x="72.7" y="516.8" font-family='"Liberation Sans", sans-serif' font-size="13.6" fill="#a6a6a6">/Ср</text>
<text x="120" y="516.8" font-family='"Liberation Sans", sans-serif' font-size="14" fill="#444444" stroke="#444444" stroke-width="0.25" text-anchor="end" textLength="14.2" lengthAdjust="spacingAndGlyphs">23</text>
<text x="121.4" y="516.8" font-family='"Liberation Sans", sans-serif' font-size="13.6" fill="#a6a6a6">/Чт</text>
<text x="168.7" y="516.8" font-family='"Liberation Sans", sans-serif' font-size="14" fill="#444444" stroke="#444444" stroke-width="0.25" text-anchor="end" textLength="14.2" lengthAdjust="spacingAndGlyphs">24</text>
<text x="170.1" y="516.8" font-family='"Liberation Sans", sans-serif' font-size="13.6" fill="#a6a6a6">/Пт</text>
<text x="217.6" y="516.8" font-family='"Liberation Sans", sans-serif' font-size="14" fill="#444444" stroke="#444444" stroke-width="0.25" text-anchor="end" textLength="14.2" lengthAdjust="spacingAndGlyphs">27</text>
<text x="219" y="516.8" font-family='"Liberation Sans", sans-serif' font-size="13.6" fill="#a6a6a6">/Пн</text>
<text x="266.2" y="516.8" font-family='"Liberation Sans", sans-serif' font-size="14" fill="#444444" stroke="#444444" stroke-width="0.25" text-anchor="end" textLength="14.2" lengthAdjust="spacingAndGlyphs">28</text>
<text x="267.6" y="516.8" font-family='"Liberation Sans", sans-serif' font-size="13.6" fill="#a6a6a6">/Вт</text>
<text x="313.7" y="516.8" font-family='"Liberation Sans", sans-serif' font-size="14" fill="#444444" stroke="#444444" stroke-width="0.25" text-anchor="end" textLength="14.2" lengthAdjust="spacingAndGlyphs">29</text>
<text x="315.1" y="516.8" font-family='"Liberation Sans", sans-serif' font-size="13.6" fill="#a6a6a6">/Ср</text>
<text x="362.6" y="516.8" font-family='"Liberation Sans", sans-serif' font-size="14" fill="#444444" stroke="#444444" stroke-width="0.25" text-anchor="end" textLength="14.2" lengthAdjust="spacingAndGlyphs">30</text>
<text x="364" y="516.8" font-family='"Liberation Sans", sans-serif' font-size="13.6" fill="#a6a6a6">/Чт</text>
<text x="411.3" y="516.8" font-family='"Liberation Sans", sans-serif' font-size="14" fill="#444444" stroke="#444444" stroke-width="0.25" text-anchor="end" textLength="7.1" lengthAdjust="spacingAndGlyphs">1</text>
<text x="412.7" y="516.8" font-family='"Liberation Sans", sans-serif' font-size="13.6" fill="#a6a6a6">/Пт</text>
<text x="460" y="516.8" font-family='"Liberation Sans", sans-serif' font-size="14" fill="#444444" stroke="#444444" stroke-width="0.25" text-anchor="end" textLength="7.1" lengthAdjust="spacingAndGlyphs">4</text>
<text x="461.4" y="516.8" font-family='"Liberation Sans", sans-serif' font-size="13.6" fill="#a6a6a6">/Пн</text>
<text x="508.7" y="516.8" font-family='"Liberation Sans", sans-serif' font-size="14" fill="#444444" stroke="#444444" stroke-width="0.25" text-anchor="end" textLength="7.1" lengthAdjust="spacingAndGlyphs">5</text>
<text x="510.1" y="516.8" font-family='"Liberation Sans", sans-serif' font-size="13.6" fill="#a6a6a6">/Вт</text>
<text x="556.2" y="516.8" font-family='"Liberation Sans", sans-serif' font-size="14" fill="#444444" stroke="#444444" stroke-width="0.25" text-anchor="end" textLength="7.1" lengthAdjust="spacingAndGlyphs">6</text>
<text x="557.6" y="516.8" font-family='"Liberation Sans", sans-serif' font-size="13.6" fill="#a6a6a6">/Ср</text>
<text x="604.9" y="516.8" font-family='"Liberation Sans", sans-serif' font-size="14" fill="#444444" stroke="#444444" stroke-width="0.25" text-anchor="end" textLength="7.1" lengthAdjust="spacingAndGlyphs">7</text>
<text x="606.3" y="516.8" font-family='"Liberation Sans", sans-serif' font-size="13.6" fill="#a6a6a6">/Чт</text>
<text x="653.7" y="516.8" font-family='"Liberation Sans", sans-serif' font-size="14" fill="#444444" stroke="#444444" stroke-width="0.25" text-anchor="end" textLength="7.1" lengthAdjust="spacingAndGlyphs">8</text>
<text x="655.1" y="516.8" font-family='"Liberation Sans", sans-serif' font-size="13.6" fill="#a6a6a6">/Пт</text>
<text x="702.6" y="516.8" font-family='"Liberation Sans", sans-serif' font-size="14" fill="#444444" stroke="#444444" stroke-width="0.25" text-anchor="end" textLength="14.2" lengthAdjust="spacingAndGlyphs">11</text>
<text x="704" y="516.8" font-family='"Liberation Sans", sans-serif' font-size="13.6" fill="#a6a6a6">/Пн</text>
<text x="750" y="516.8" font-family='"Liberation Sans", sans-serif' font-size="14" fill="#444444" stroke="#444444" stroke-width="0.25" text-anchor="end" textLength="14.2" lengthAdjust="spacingAndGlyphs">12</text>
<text x="751.4" y="516.8" font-family='"Liberation Sans", sans-serif' font-size="13.6" fill="#a6a6a6">/Вт</text>
<text x="798.7" y="516.8" font-family='"Liberation Sans", sans-serif' font-size="14" fill="#444444" stroke="#444444" stroke-width="0.25" text-anchor="end" textLength="14.2" lengthAdjust="spacingAndGlyphs">13</text>
<text x="800.1" y="516.8" font-family='"Liberation Sans", sans-serif' font-size="13.6" fill="#a6a6a6">/Ср</text>
<text x="847.5" y="516.8" font-family='"Liberation Sans", sans-serif' font-size="14" fill="#444444" stroke="#444444" stroke-width="0.25" text-anchor="end" textLength="14.2" lengthAdjust="spacingAndGlyphs">14</text>
<text x="848.9" y="516.8" font-family='"Liberation Sans", sans-serif' font-size="13.6" fill="#a6a6a6">/Чт</text>
<text x="896.1" y="516.8" font-family='"Liberation Sans", sans-serif' font-size="14" fill="#444444" stroke="#444444" stroke-width="0.25" text-anchor="end" textLength="14.2" lengthAdjust="spacingAndGlyphs">15</text>
<text x="897.5" y="516.8" font-family='"Liberation Sans", sans-serif' font-size="13.6" fill="#a6a6a6">/Пт</text>
<path d="M20.6 459.3 H92.6 a3 3 0 0 1 3 3 V480.4 a3 3 0 0 1 -3 3 H20.6 Z" fill="#86a3bd"/>
<line x1="20.6" y1="459.3" x2="20.6" y2="492.6" stroke="#5a3a80" stroke-width="2.1"/>
<text x="29.7" y="476.6" font-family='"Liberation Sans", sans-serif' font-size="14.2" fill="#1c2a3c" stroke="#1c2a3c" stroke-width="0.3" textLength="56.4" lengthAdjust="spacingAndGlyphs">Сен 2021</text>
<path d="M412.6 459.3 H484.6 a3 3 0 0 1 3 3 V480.4 a3 3 0 0 1 -3 3 H412.6 Z" fill="#86a3bd"/>
<line x1="412.6" y1="459.3" x2="412.6" y2="492.6" stroke="#5a3a80" stroke-width="2.1"/>
<text x="421.7" y="476.6" font-family='"Liberation Sans", sans-serif' font-size="14.2" fill="#1c2a3c" stroke="#1c2a3c" stroke-width="0.3" textLength="56.4" lengthAdjust="spacingAndGlyphs">Окт 2021</text>
</svg>
</body></html>
